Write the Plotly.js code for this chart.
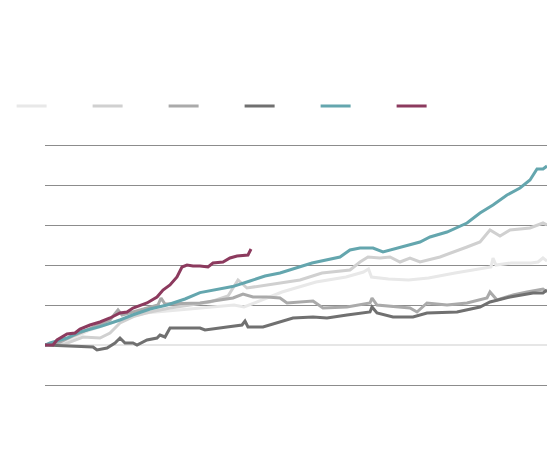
<!DOCTYPE html>
<html>
<head>
<meta charset="utf-8">
<script src="https://cdn.plot.ly/plotly-3.0.1.min.js"></script>
<style>html,body{margin:0;padding:0;background:#fff;}#chart{width:560px;height:474px;}</style>
</head>
<body>
<div id="chart"></div>
<script>
// Series data (x = time index, y = change)
const lightestX = [0,3,6,9,12,15,20,26.5,33.3,37.8,39.8,41.8,47.4,54.2,60.2,63.7,64.7,65.3,68.7,72.7,76.7,82,88,89.2,89.6,90.2,93.2,97.2,98.6,99.6,100.4];
const lightestY = [0,0.5,2,3.75,5,6.25,8,8.75,9.5,10,9.5,10.5,13.25,15.75,17,18.25,19,17,16.5,16.25,16.75,18,19.25,19.5,21.75,20,20.5,20.5,20.75,21.75,21];

const lightX = [0,4,7.6,11,13,15,18,21,25,29,33,36.6,38.6,40.4,44.4,47,51,55.4,61,63,64.6,67,69,71,73,75,79,84.4,87,89,91,93,97,99.6,100.4];
const lightY = [0,0.25,2,1.75,3,5.5,7.25,8.25,9.25,10,10.75,12.25,16.25,14.25,15,15.5,16.25,18,18.75,20.75,22,21.75,22,20.75,21.75,20.75,22,24.5,25.75,28.75,27.25,28.75,29.25,30.5,30];

const midX = [0,3,6,9.6,13,14.6,15.4,19,22.6,23.2,24,31,37.6,39.6,41.6,44.4,47,48.4,51,53.6,55.6,60.4,65,65.4,66.4,70.4,73,74.4,76.4,80.4,84.4,88.4,89,90.4,93.6,96.4,99.6,100.4];
const midY = [0,0.75,2.5,4.5,6.25,8.75,7.5,8.75,10,11.75,10.25,10.5,11.75,12.75,12,12,11.75,10.5,10.75,11,9.25,9.5,10.5,11.75,10,9.5,9.25,8.25,10.5,10,10.5,11.75,13.25,11.25,12.5,13.25,14,13.25];

const darkX = [0,4.4,7.6,9.6,10.4,12.4,14,15,16,17.6,18.4,20.4,22.4,23,24,25,31,32,36.4,39.4,40,40.6,43.6,47,49.6,53.6,56.4,60.4,65,65.4,66.4,69.6,73.6,76.4,82.4,87,89,93,97.6,99.6,100.4];
const darkY = [0,-0.25,-0.5,-0.5,-1.25,-0.75,0.5,1.75,0.5,0.5,0,1.25,1.75,2.5,2,4.25,4.25,3.75,4.5,5,6,4.5,4.5,5.75,6.75,7,6.75,7.5,8.25,9.5,8,7,7,8,8.25,9.5,10.75,12,13,13,13.75];

const tealX = [0,1,4.4,7,11,15,17.5,21,24.4,28,31,34,37.5,41,44,47,49,53.4,59,61,63,65.6,67.6,70.4,73,75,77,80.4,84.4,87,89.6,92.4,95,97,98.4,99.6,100.4];
const tealY = [0,0.5,1.75,3.25,4.6,6.25,7.5,9,10,11.5,13.1,13.75,14.6,16,17.25,18,18.75,20.5,22,23.75,24.25,24.25,23.25,24.25,25,25.75,27,28.25,30.5,33,35,37.5,39.25,41.25,44,44,44.75];

const maroonX = [0,1.6,2.4,4.4,6,7,9,11,13,15,16.4,17.6,20.4,22.4,23.6,25,26.4,27.4,28.4,29.6,31,32.6,33.6,35.6,37,38.4,40.6,41.2];
const maroonY = [0,0,1.25,2.75,3,4,5,5.75,6.75,8,8.25,9.25,10.5,12,13.75,15,17,19.5,20,19.75,19.75,19.5,20.5,20.75,21.75,22.25,22.5,24];

const gridValues = [-10,0,10,20,30,40,50];

const seriesColors = ['#e8e8e8','#d0d0d0','#aaaaaa','#707070','#64a6ae','#8c3a5e'];
const seriesX = [lightestX, lightX, midX, darkX, tealX, maroonX];
const seriesY = [lightestY, lightY, midY, darkY, tealY, maroonY];

const traces = seriesX.map((xs, i) => ({
  type: 'scatter', mode: 'lines', x: xs, y: seriesY[i], name: '',
  line: {color: seriesColors[i], width: 3}, hoverinfo: 'skip'
}));

const layout = {
  width: 560, height: 474,
  margin: {l: 45, r: 13, t: 141, b: 85, autoexpand: false},
  paper_bgcolor: '#ffffff', plot_bgcolor: '#ffffff',
  showlegend: true,
  legend: {orientation: 'h', x: -0.0665, xanchor: 'left', y: 1.141, yanchor: 'middle',
           entrywidth: 31, entrywidthmode: 'pixels', font: {size: 10, color: '#ffffff'},
           bgcolor: 'rgba(0,0,0,0)'},
  xaxis: {range: [0, 100.4], showgrid: false, zeroline: false, showticklabels: false, ticks: '', showline: false},
  yaxis: {range: [-11, 51], tickvals: gridValues, showticklabels: false, ticks: '',
          showgrid: true, gridcolor: '#8c8c8c', gridwidth: 1,
          zeroline: true, zerolinecolor: '#e6e6e6', zerolinewidth: 2, showline: false}
};

Plotly.newPlot('chart', traces, layout, {displayModeBar: false, staticPlot: true});
</script>
</body>
</html>
